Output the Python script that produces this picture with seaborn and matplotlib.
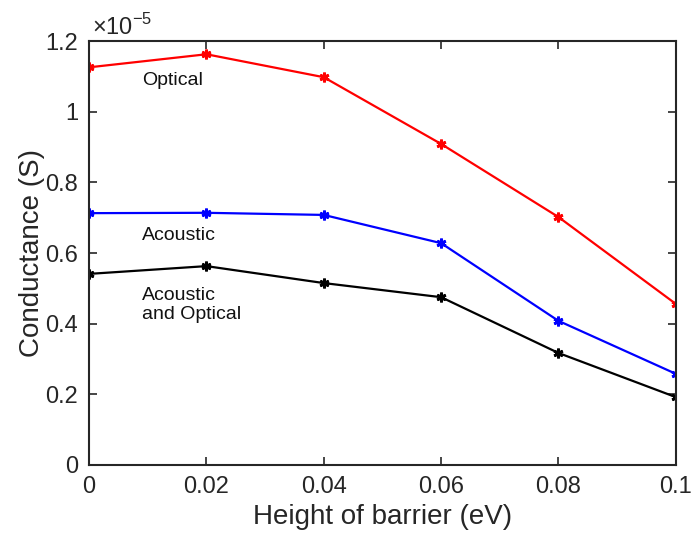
import matplotlib
matplotlib.use("Agg")
import matplotlib.pyplot as plt
import seaborn as sns
import pandas as pd
from matplotlib.ticker import FuncFormatter, MultipleLocator

# barrier height (eV)
barrier = [0, 0.02, 0.04, 0.06, 0.08, 0.1]

# conductance in units of 1e-5 S
optical = [1.126, 1.163, 1.098, 0.909, 0.702, 0.456]
acoustic = [0.713, 0.714, 0.708, 0.628, 0.408, 0.258]
both = [0.541, 0.563, 0.515, 0.475, 0.317, 0.192]

series_names = ["Optical", "Acoustic", "Acoustic\nand Optical"]
colors = ["#ff0000", "#0000ff", "#000000"]

rows = []
for name, vals in zip(series_names, [optical, acoustic, both]):
    for x, y in zip(barrier, vals):
        rows.append({"barrier": x, "cond": y, "series": name})
df = pd.DataFrame(rows)

sns.set_style("ticks")
plt.rcParams['font.family'] = ['Liberation Sans', 'DejaVu Sans']
plt.rcParams['mathtext.fontset'] = 'custom'
plt.rcParams['mathtext.rm'] = 'Liberation Sans'

fig, ax = plt.subplots(figsize=(6.96, 5.35), dpi=100)
fig.subplots_adjust(left=0.128, right=0.971, top=0.923, bottom=0.131)

# MATLAB-style asterisk marker
sns.lineplot(data=df, x="barrier", y="cond", hue="series",
             palette=dict(zip(series_names, colors)),
             marker=(6, 2, 0), markersize=7, linewidth=1.6, legend=False, ax=ax)
# seaborn paints marker edges white; make them match the line
for line in ax.lines:
    c = line.get_color()
    line.set_markeredgecolor(c)
    line.set_markerfacecolor(c)
    line.set_markeredgewidth(2.0)

ax.set_xlim(0, 0.1)
ax.set_ylim(0, 1.2)
ax.xaxis.set_major_locator(MultipleLocator(0.02))
ax.yaxis.set_major_locator(MultipleLocator(0.2))
fmt = FuncFormatter(lambda v, p: "%g" % round(v, 6))
ax.xaxis.set_major_formatter(fmt)
ax.yaxis.set_major_formatter(fmt)

dark = "#262626"
ax.tick_params(direction="in", length=6, width=1.2, labelsize=17,
               top=True, right=True, colors=dark, pad=8)
for s in ax.spines.values():
    s.set_visible(True)
    s.set_linewidth(1.5)
    s.set_color(dark)

ax.set_xlabel("Height of barrier (eV)", fontsize=20, color=dark, labelpad=4)
ax.set_ylabel("Conductance (S)", fontsize=20, color=dark, labelpad=0)

ax.text(0.0005, 1.205, r"$\times10^{-5}$", fontsize=17, color=dark,
        transform=ax.transData, ha="left", va="bottom")

ax.text(0.009, 1.09, "Optical", fontsize=14, va="center", ha="left", color="#111111")
ax.text(0.009, 0.651, "Acoustic", fontsize=14, va="center", ha="left", color="#111111")
ax.text(0.009, 0.453, "Acoustic\nand Optical", fontsize=14, va="center",
        ha="left", linespacing=1.15, color="#111111")

fig.savefig("out.png", dpi=100)
